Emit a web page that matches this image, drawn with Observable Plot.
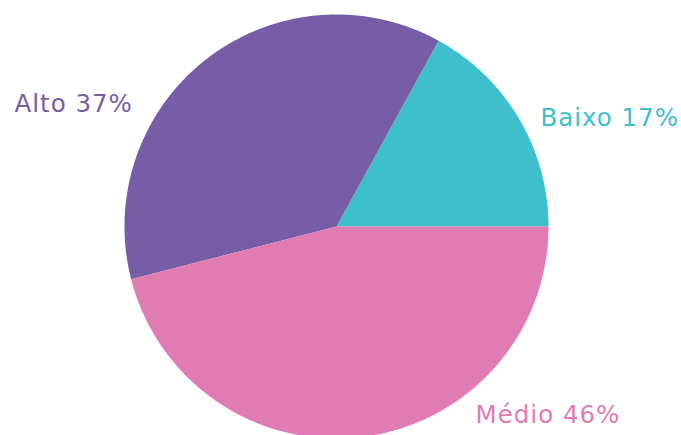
<!DOCTYPE html>
<html>
<head>
<meta charset="utf-8">
<script src="https://cdn.jsdelivr.net/npm/d3@7"></script>
<script src="https://cdn.jsdelivr.net/npm/@observablehq/plot@0.6"></script>
<style>
  html, body { margin: 0; padding: 0; background: #fff; }
  #chart text { letter-spacing: 1px; }
</style>
</head>
<body>
<div id="chart"></div>
<script>
const categories = ["Baixo", "Alto", "Médio"];
const values = [17, 37, 46];
const labels = ["Baixo 17%", "Alto 37%", "Médio 46%"];
const colors = ["#3DBFCC", "#775CA6", "#E17BB3"];
// label anchor points in chart units (radius = 1)
const labelX = [0.962, -1.519, 0.656];
const labelY = [0.472, 0.542, -0.929];

const W = 681, H = 435;
const cx = 336, cy = 226, R = 212;

const total = d3.sum(values);
// slices start at 3 o'clock and go counterclockwise
const arcs = [];
let start = 0;
categories.forEach((c, i) => {
  const span = values[i] / total * 2 * Math.PI;
  const n = Math.max(2, Math.ceil(span / 0.005));
  arcs.push({cat: c, x: 0, y: 0});
  for (let k = 0; k <= n; k++) {
    const a = start + span * k / n;
    arcs.push({cat: c, x: Math.cos(a), y: Math.sin(a)});
  }
  arcs.push({cat: c, x: 0, y: 0});
  start += span;
});

const labelData = categories.map((c, i) => ({cat: c, text: labels[i], x: labelX[i], y: labelY[i]}));

const chart = Plot.plot({
  width: W,
  height: H,
  margin: 0,
  x: {domain: [-cx / R, (W - cx) / R], range: [0, W], axis: null},
  y: {domain: [-(H - cy) / R, cy / R], range: [H, 0], axis: null},
  color: {domain: categories, range: colors},
  marks: [
    ...categories.map((c, i) => Plot.line(arcs.filter(d => d.cat === c), {
      x: "x", y: "y", fill: colors[i], stroke: "none", curve: "linear"
    })),
    Plot.text(labelData, {
      x: "x", y: "y", text: "text", fill: "cat",
      textAnchor: "start", lineAnchor: "bottom",
      fontSize: 24.5, fontFamily: "DejaVu Sans", fontWeight: 400
    })
  ]
});
document.getElementById("chart").appendChild(chart);
</script>
</body>
</html>
